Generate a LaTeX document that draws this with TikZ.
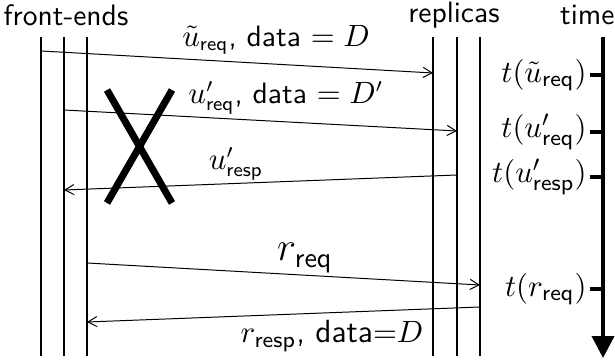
\documentclass[tikz,border=0pt]{standalone}
\usepackage{amsmath,amssymb}
\usepackage{tikz}
\usetikzlibrary{arrows.meta,positioning,calc}

\begin{document}
\begin{tikzpicture}[x=0.0125cm,y=-0.0125cm,
  every node/.style={font=\sffamily\fontsize{10.5}{12}\selectfont},
  life/.style={line width=0.55pt},
  msg/.style={-{Straight Barb[length=3.2pt,width=3.6pt]},line width=0.35pt},
  tick/.style={line width=1.4pt},
  cross/.style={line width=2.5pt},
  tlabel/.style={anchor=east,inner sep=1pt,font=\sffamily\fontsize{11}{13}\selectfont}]
          \useasboundingbox (0,0) rectangle (615,360);
          \node at (66,15) (fe) {front-ends};
          \node at (454,15) (rep) {replicas};
          \node[anchor=east,inner xsep=0pt] at (615,15) (tm) {time};
          % front-end lifelines
          \coordinate (f1t) at (41,37);  \coordinate (f1b) at (41,356);
          \coordinate (f2t) at (64,37);  \coordinate (f2b) at (64,356);
          \coordinate (f3t) at (87,37);  \coordinate (f3b) at (87,356);
          \draw[life] (f1t)--(f1b);
          \draw[life] (f2t)--(f2b);
          \draw[life] (f3t)--(f3b);
          % replica lifelines
          \coordinate (r1t) at (433,37); \coordinate (r1b) at (433,356);
          \coordinate (r2t) at (457,37); \coordinate (r2b) at (457,356);
          \coordinate (r3t) at (480,37); \coordinate (r3b) at (480,356);
          \draw[life] (r1t)--(r1b);
          \draw[life] (r2t)--(r2b);
          \draw[life] (r3t)--(r3b);
          % messages
          \coordinate (m1s) at (41,51);   \coordinate (m1e) at (433,73);
          \coordinate (m2s) at (64,110);  \coordinate (m2e) at (457,131);
          \coordinate (m3s) at (457,175); \coordinate (m3e) at (64,190);
          \coordinate (m4s) at (87,263);  \coordinate (m4e) at (480,285);
          \coordinate (m5s) at (480,307); \coordinate (m5e) at (87,322);
          \draw[msg] (m1s)--(m1e);
          \draw[msg] (m2s)--(m2e);
          \draw[msg] (m3s)--(m3e);
          \draw[msg] (m4s)--(m4e);
          \draw[msg] (m5s)--(m5e);
          \node at (276,40) (l1) {$\tilde{u}_{\mathsf{req}}$, data $=D$};
          \node at (286,98) (l2) {$u'_{\mathsf{req}}$, data $=D'$};
          \node at (236,164) (l3) {$u'_{\mathsf{resp}}$};
          \node[font=\sffamily\fontsize{14}{16}\selectfont] at (305,258) (l4) {$r_{\mathsf{req}}$};
          \node[font=\sffamily\fontsize{11.4}{13}\selectfont] at (332,336) (l5) {$r_{\mathsf{resp}}$, data${=}D$};
          % lost request
          \draw[cross] (107,90)--(172,203);
          \draw[cross] (172,90)--(107,203);
          % time axis
          \coordinate (tt) at (603,37);
          \coordinate (tb) at (603,358);
          \draw[line width=1.4pt,-{Triangle[length=7.8pt,width=7.8pt]}] (tt)--(tb);
          \node[tlabel] at (590,75) (t1) {$t(\tilde{u}_{\mathsf{req}})$};
          \node[tlabel] at (590,132) (t2) {$t(u'_{\mathsf{req}})$};
          \node[tlabel] at (590,177) (t3) {$t(u'_{\mathsf{resp}})$};
          \node[tlabel] at (590,289) (t4) {$t(r_{\mathsf{req}})$};
          \draw[tick] (t1.east)--(t1.east-|tt);
          \draw[tick] (t2.east)--(t2.east-|tt);
          \draw[tick] (t3.east)--(t3.east-|tt);
          \draw[tick] (t4.east)--(t4.east-|tt);
        \end{tikzpicture}
\end{document}
